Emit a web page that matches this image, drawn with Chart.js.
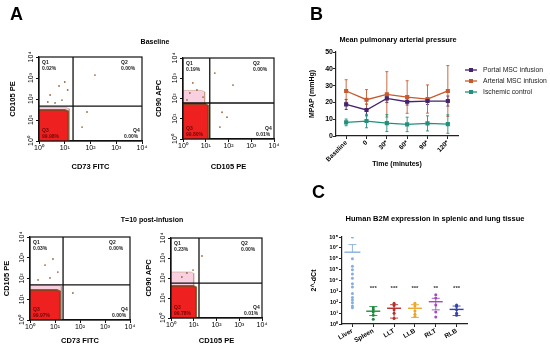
<!DOCTYPE html>
<html>
<head>
<meta charset="utf-8">
<script src="https://cdn.jsdelivr.net/npm/chart.js@4"></script>
<style>
body { margin: 0; background: #fff; }
#wrap { position: relative; width: 550px; height: 347px; overflow: hidden; font-family: 'Liberation Sans', Arial, sans-serif; }
canvas { position: absolute; }
.lbl { position: absolute; font-weight: bold; color: #000; white-space: nowrap; filter: grayscale(100%); }
.ttl { position: absolute; font-weight: bold; color: #000; white-space: nowrap; transform: translateX(-50%); filter: grayscale(100%); }
</style>
</head>
<body>
<div id="wrap">
  <div class="lbl" style="left:10px;top:5px;font-size:18px;line-height:18px">A</div>
  <div class="lbl" style="left:310px;top:5px;font-size:18px;line-height:18px">B</div>
  <div class="lbl" style="left:312px;top:183px;font-size:18px;line-height:18px">C</div>
  <div class="ttl" style="left:155px;top:38px;font-size:7px;line-height:7px">Baseline</div>
  <div class="ttl" style="left:152px;top:216px;font-size:7px;line-height:7px">T=10 post-infusion</div>
  <div class="ttl" style="left:398px;top:36px;font-size:7.3px;line-height:7px">Mean pulmonary arterial pressure</div>
  <div class="ttl" style="left:435px;top:215px;font-size:7.5px;line-height:7px">Human B2M expression in splenic and lung tissue</div>

  <canvas id="flow0" width="150" height="128" style="left:0px;top:45px"></canvas>
  <canvas id="flow1" width="135" height="128" style="left:148px;top:45px"></canvas>
  <canvas id="flow2" width="140" height="122" style="left:0px;top:225px"></canvas>
  <canvas id="flow3" width="130" height="122" style="left:140px;top:225px"></canvas>
  <canvas id="mpap" width="250" height="125" style="left:300px;top:45px"></canvas>
  <canvas id="b2m" width="250" height="119" style="left:300px;top:228px"></canvas>
</div>

<script>
// ---- panel A: flow dot plots (baseline / T=10) ----
const flowX = ['CD73 FITC', 'CD105 PE', 'CD73 FITC', 'CD105 PE'];
const flowY = ['CD105 PE', 'CD90 APC', 'CD105 PE', 'CD90 APC'];
const gateX = [21, 15, 21, 17];
const gateY = [46, 60, 49, 56];
const blobRight = [13.4, 12.6, 15.8, 12.6];
const blobTop = [30, 53, 28, 40];
const haloRight = [15, 9, 18, 10];
const haloTop = [40, 250, 49, 200];
const quadPct = [
  ['0.02%', '0.00%', '99.98%', '0.00%'],
  ['0.19%', '0.00%', '99.80%', '0.01%'],
  ['0.03%', '0.00%', '99.97%', '0.00%'],
  ['0.23%', '0.00%', '99.78%', '0.01%']
];
const events0 = [[2.7, 155], [6, 415], [13, 268], [149, 1380], [73, 24], [47, 4.6], [10, 645], [2.2, 72], [4.2, 65], [7.8, 89]];
const events1 = [[25, 1800], [158, 460], [52, 21], [86, 12], [42, 3.9], [2, 187], [4.1, 263], [7.6, 118], [1.5, 85], [2.7, 585]];
const events2 = [[8.3, 870], [4, 446], [13, 205], [6.3, 106], [52, 20], [2.1, 85]];
const events3 = [[23, 1260], [9.3, 250], [3, 112], [5, 178]];
const flowEvents = [events0, events1, events2, events3];

// ---- panel B: mean pulmonary arterial pressure ----
const timeLabels = ['Baseline', '0', '30*', '60*', '90*', '120*'];
const portalMean = [18.8, 15.5, 22.4, 20.4, 20.8, 20.8];
const portalSd = [3, 3.5, 2.5, 2, 2, 3];
const arterialMean = [26.8, 21.6, 24.8, 23.2, 22.0, 26.8];
const arterialSd = [6.7, 6.0, 13.5, 9.7, 8.4, 15.1];
const ischemicMean = [8.1, 8.9, 7.7, 6.9, 7.5, 7.1];
const ischemicSd = [2, 4, 5, 4.3, 4.5, 5.5];

// ---- panel C: human B2M expression ----
const tissues = ['Liver', 'Spleen', 'LLT', 'LLB', 'RLT', 'RLB'];
const tissueColors = ['#86aee0', '#1f8a3e', '#b3302c', '#eda52a', '#a24cc0', '#3444a8'];
const liverPts = [1e8, 1e6, 2e5, 1e5, 4e4, 1.6e4, 5e3, 2.5e3, 630, 280, 160, 90, 45, 32];
const spleenPts = [32, 20, 12.6, 6.3, 2.8];
const lltPts = [80, 50, 20, 10, 3.2];
const llbPts = [80, 45, 16, 8, 5];
const rltPts = [500, 250, 56, 12.6, 4.5];
const rlbPts = [56, 40, 20, 10, 6.3];
const tissuePts = [liverPts, spleenPts, lltPts, llbPts, rltPts, rlbPts];
const tissueMean = [4e6, 15, 28, 28, 112, 22];
const tissueHi = [2e7, 40, 60, 60, 230, 45];
const tissueLo = [null, 6, 3.5, 4, 20, 6];
const tissueStars = ['', '***', '***', '***', '**', '***'];
const starLevel = 2000;

Chart.defaults.font.family = "'Liberation Sans', Arial, sans-serif";
Chart.defaults.color = '#000';
Chart.defaults.animation = false;
Chart.defaults.responsive = false;
Chart.defaults.plugins.legend.display = false;
Chart.defaults.plugins.tooltip.enabled = false;

const SUP = ['⁰', '¹', '²', '³', '⁴', '⁵', '⁶', '⁷', '⁸'];
function powTicks(scale) {
  const out = [];
  for (let v = scale.min; v <= scale.max * 1.0001; v *= 10) out.push({ value: v });
  scale.ticks = out;
}
function powLabel(v) { return '10' + SUP[Math.round(Math.log10(v))]; }
function fixSize(n) {
  return function (s) { if (s.isHorizontal()) s.height = n; else s.width = n; };
}

const framePlugin = {
  id: 'frame',
  afterDraw(chart) {
    const a = chart.chartArea, ctx = chart.ctx;
    ctx.save();
    ctx.strokeStyle = '#111';
    ctx.lineWidth = 1.2;
    ctx.strokeRect(a.left, a.top, a.right - a.left, a.bottom - a.top);
    ctx.restore();
  }
};

function logAxis(title, size, rot) {
  return {
    type: 'logarithmic', min: 1, max: 1e4,
    afterBuildTicks: powTicks,
    afterFit: fixSize(size),
    ticks: { callback: powLabel, font: { size: 7 }, padding: 0, autoSkip: false,
             minRotation: rot, maxRotation: rot, crossAlign: rot ? 'center' : 'near' },
    grid: { drawOnChartArea: false, tickLength: 3, color: '#111' },
    border: { color: '#111', width: 1.2 },
    title: { display: true, text: title, font: { size: 7.5, weight: 'bold' }, padding: 2 }
  };
}

// blob outline: top edge then right edge, filled down to the axis
function edge(r, t) {
  return [{ x: 1, y: t }, { x: r * 0.75, y: t }, { x: r, y: t * 0.85 }, { x: r, y: 1 }];
}

function flowPlot(i, pad, yW, xH) {
  const ev = flowEvents[i].map(p => ({ x: p[0], y: p[1] }));
  new Chart(document.getElementById('flow' + i), {
    type: 'scatter',
    data: {
      datasets: [
        { data: [{ x: gateX[i], y: 1 }, { x: gateX[i], y: 1e4 }], showLine: true, borderColor: '#111', borderWidth: 1.3, pointRadius: 0 },
        { data: [{ x: 1, y: gateY[i] }, { x: 1e4, y: gateY[i] }], showLine: true, borderColor: '#111', borderWidth: 1.3, pointRadius: 0 },
        { data: ev, pointRadius: 0.9, backgroundColor: '#9a6a40', borderWidth: 0 },
        { data: edge(blobRight[i], blobTop[i]), showLine: true, fill: 'start', backgroundColor: '#ee2020',
          borderColor: 'rgba(125,70,30,0.85)', borderWidth: 2, pointRadius: 0 },
        { data: edge(haloRight[i], haloTop[i]), showLine: true, fill: 'start', backgroundColor: 'rgba(240,150,185,0.45)',
          borderColor: 'rgba(170,110,80,0.35)', borderWidth: 1, pointRadius: 0 }
      ]
    },
    options: {
      layout: { padding: { left: pad[0], top: pad[1], right: pad[2], bottom: pad[3] } },
      scales: { x: logAxis(flowX[i], xH, 0), y: logAxis(flowY[i], yW, 90) }
    },
    plugins: [framePlugin, {
      id: 'quads',
      afterDraw(chart) {
        const a = chart.chartArea, ctx = chart.ctx, p = quadPct[i];
        ctx.save();
        ctx.font = "bold 5px 'Liberation Sans', Arial";
        ctx.textAlign = 'left';
        ctx.textBaseline = 'top';
        ctx.fillStyle = '#222';
        ctx.fillText('Q1', a.left + 3, a.top + 3);
        ctx.fillText(p[0], a.left + 3, a.top + 9);
        ctx.fillText('Q2', a.right - 21, a.top + 3);
        ctx.fillText(p[1], a.right - 21, a.top + 9);
        ctx.textBaseline = 'bottom';
        ctx.fillText('Q4', a.right - 9, a.bottom - 8);
        ctx.fillText(p[3], a.right - 18, a.bottom - 2);
        ctx.fillStyle = '#700808';
        ctx.fillText('Q3', a.left + 3, a.bottom - 8);
        ctx.fillText(p[2], a.left + 3, a.bottom - 2);
        ctx.restore();
      }
    }]
  });
}

flowPlot(0, [6, 12, 8, 0], 33, 32);
flowPlot(1, [4, 13, 9, 0], 31, 34);
flowPlot(2, [0, 12, 10, 0], 30, 27);
flowPlot(3, [2, 13, 8, 0], 29, 29);

// error bars and legend for panel B
const errBarPlugin = {
  id: 'errbars',
  beforeDatasetsDraw(chart) {
    const ctx = chart.ctx, ys = chart.scales.y;
    chart.data.datasets.forEach((ds, i) => {
      const meta = chart.getDatasetMeta(i);
      ctx.save();
      ctx.strokeStyle = ds.borderColor;
      ctx.lineWidth = 0.9;
      meta.data.forEach((pt, j) => {
        const hi = ys.getPixelForValue(ds.data[j] + ds.sd[j]);
        const lo = ys.getPixelForValue(ds.data[j] - ds.sd[j]);
        ctx.beginPath();
        ctx.moveTo(pt.x, hi); ctx.lineTo(pt.x, lo);
        ctx.moveTo(pt.x - 1.5, hi); ctx.lineTo(pt.x + 1.5, hi);
        ctx.moveTo(pt.x - 1.5, lo); ctx.lineTo(pt.x + 1.5, lo);
        ctx.stroke();
      });
      ctx.restore();
    });
  }
};
const sideLegend = {
  id: 'sideLegend',
  afterDraw(chart) {
    const a = chart.chartArea, ctx = chart.ctx;
    ctx.save();
    ctx.font = "6.8px 'Liberation Sans', Arial";
    ctx.textBaseline = 'middle';
    chart.data.datasets.forEach((ds, i) => {
      const y = a.top + 18 + i * 11, x = a.right + 13;
      ctx.strokeStyle = ds.borderColor;
      ctx.fillStyle = ds.borderColor;
      ctx.lineWidth = 1.3;
      ctx.beginPath(); ctx.moveTo(x - 6, y); ctx.lineTo(x + 6, y); ctx.stroke();
      ctx.fillRect(x - 2, y - 2, 4, 4);
      ctx.fillStyle = '#222';
      ctx.fillText(ds.label, x + 12, y);
    });
    ctx.restore();
  }
};

function pSeries(label, mean, sd, color) {
  return { label: label, data: mean, sd: sd, borderColor: color, backgroundColor: color,
           borderWidth: 1.3, pointStyle: 'rect', pointRadius: 2, tension: 0 };
}

new Chart(document.getElementById('mpap'), {
  type: 'line',
  data: {
    labels: timeLabels,
    datasets: [
      pSeries('Portal MSC infusion', portalMean, portalSd, '#45236f'),
      pSeries('Arterial MSC infusion', arterialMean, arterialSd, '#c65a2e'),
      pSeries('Ischemic control', ischemicMean, ischemicSd, '#23907c')
    ]
  },
  options: {
    layout: { padding: { left: 6, top: 7, right: 92, bottom: 0 } },
    scales: {
      x: {
        offset: true, afterFit: fixSize(34),
        ticks: { font: { size: 6.5, weight: 'bold' }, minRotation: 45, maxRotation: 45, padding: 0, autoSkip: false },
        grid: { drawOnChartArea: false, tickLength: 3, color: '#222' },
        border: { color: '#222', width: 1.2 },
        title: { display: true, text: 'Time (minutes)', font: { size: 7, weight: 'bold' }, padding: { top: 0, bottom: 2 } }
      },
      y: {
        min: 0, max: 50, afterFit: fixSize(30),
        ticks: { stepSize: 10, font: { size: 7, weight: 'bold' }, padding: 0 },
        grid: { drawOnChartArea: false, tickLength: 3, color: '#222' },
        border: { color: '#222', width: 1.2 },
        title: { display: true, text: 'MPAP (mmHg)', font: { size: 7, weight: 'bold' }, padding: 2 }
      }
    }
  },
  plugins: [errBarPlugin, sideLegend]
});

// mean line, error bar and significance stars for panel C
const meanPlugin = {
  id: 'means',
  afterDatasetsDraw(chart) {
    const ctx = chart.ctx, xs = chart.scales.x, ys = chart.scales.y;
    ctx.save();
    tissues.forEach((t, i) => {
      const x = xs.getPixelForValue(i);
      const m = ys.getPixelForValue(tissueMean[i]);
      const hi = ys.getPixelForValue(tissueHi[i]);
      const w = i === 0 ? 8 : 7;
      ctx.strokeStyle = tissueColors[i];
      ctx.lineWidth = 1.4;
      ctx.beginPath(); ctx.moveTo(x - w, m); ctx.lineTo(x + w, m); ctx.stroke();
      ctx.lineWidth = 0.9;
      ctx.beginPath();
      ctx.moveTo(x, m); ctx.lineTo(x, hi);
      ctx.moveTo(x - 4, hi); ctx.lineTo(x + 4, hi);
      if (tissueLo[i] !== null) {
        const lo = ys.getPixelForValue(tissueLo[i]);
        ctx.moveTo(x, m); ctx.lineTo(x, lo);
        ctx.moveTo(x - 4, lo); ctx.lineTo(x + 4, lo);
      }
      ctx.stroke();
      ctx.fillStyle = '#333';
      ctx.font = "bold 6px 'Liberation Sans', Arial";
      ctx.textAlign = 'center';
      ctx.textBaseline = 'middle';
      ctx.fillText(tissueStars[i], x, ys.getPixelForValue(starLevel));
    });
    ctx.restore();
  }
};

new Chart(document.getElementById('b2m'), {
  type: 'scatter',
  data: {
    labels: tissues,
    datasets: tissues.map((t, i) => ({
      data: tissuePts[i].map(v => ({ x: t, y: v })),
      backgroundColor: tissueColors[i], borderWidth: 0, pointRadius: 1.5
    }))
  },
  options: {
    layout: { padding: { left: 8, top: 9, right: 83, bottom: 0 } },
    scales: {
      x: {
        type: 'category', labels: tissues, offset: true, afterFit: fixSize(23),
        ticks: { font: { size: 6.5, weight: 'bold' }, minRotation: 30, maxRotation: 30, padding: 0, autoSkip: false },
        grid: { drawOnChartArea: false, tickLength: 3, color: '#222' },
        border: { color: '#222', width: 1.2 }
      },
      y: {
        type: 'logarithmic', min: 1, max: 1e8, afterBuildTicks: powTicks, afterFit: fixSize(34),
        ticks: { callback: powLabel, font: { size: 5.5, weight: 'bold' }, padding: 1, autoSkip: false },
        grid: { drawOnChartArea: false, tickLength: 3, color: '#222' },
        border: { color: '#222', width: 1.2 },
        title: { display: true, text: '2^-dCt', font: { size: 7, weight: 'bold' }, padding: 2 }
      }
    }
  },
  plugins: [meanPlugin]
});
</script>
</body>
</html>
